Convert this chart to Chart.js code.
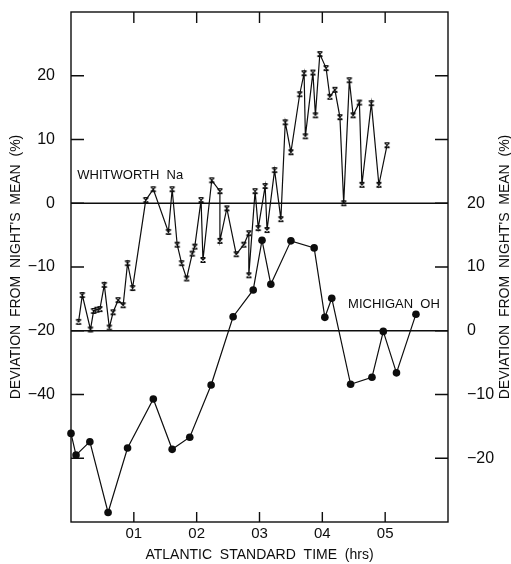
<!DOCTYPE html>
<html>
<head>
<meta charset="utf-8">
<script src="https://cdn.jsdelivr.net/npm/chart.js@4.4.1/dist/chart.umd.min.js"></script>
<style>
  html, body { margin: 0; padding: 0; background: #fff; }
</style>
</head>
<body>
<canvas id="myChart" width="511" height="564"></canvas>
<script>
'use strict';

// Whitworth Na (hours, % on left axis)
const naHours = [0.12, 0.18, 0.31, 0.36, 0.41, 0.46, 0.53, 0.61, 0.67, 0.75, 0.83, 0.90, 0.98,
	1.19, 1.31, 1.55, 1.61, 1.69, 1.76, 1.84, 1.93, 1.97, 2.07, 2.10, 2.24, 2.37, 2.37, 2.48,
	2.63, 2.75, 2.83, 2.83, 2.93, 2.98, 3.09, 3.12, 3.24, 3.34, 3.41, 3.50, 3.64, 3.71, 3.73,
	3.85, 3.89, 3.96, 4.06, 4.12, 4.20, 4.28, 4.34, 4.43, 4.49, 4.59, 4.63, 4.78, 4.90, 5.03];
const naValues = [-18.6, -14.4, -19.8, -16.9, -16.7, -16.6, -12.8, -19.5, -17.1, -15.2, -16.0, -9.4, -13.3,
	0.5, 2.2, -4.5, 2.2, -6.5, -9.4, -11.8, -7.9, -6.8, 0.5, -8.9, 3.6, 1.9, -5.9, -0.8,
	-8.0, -6.5, -4.7, -11.3, 1.9, -3.9, 2.7, -4.2, 5.2, -2.5, 12.7, 8.0, 17.1, 20.4, 10.5,
	20.5, 13.8, 23.4, 21.2, 16.7, 17.8, 13.5, 0.0, 19.3, 13.8, 15.8, 2.9, 15.7, 2.9, 9.1];

// Michigan OH (hours, % on right axis)
const ohHours = [0.00, 0.08, 0.30, 0.59, 0.90, 1.31, 1.61, 1.89, 2.23, 2.58, 2.90, 3.04, 3.18,
	3.50, 3.87, 4.04, 4.15, 4.45, 4.79, 4.97, 5.18, 5.49];
const ohValues = [-16.1, -19.5, -17.4, -28.5, -18.4, -10.7, -18.6, -16.7, -8.5, 2.2, 6.4, 14.2, 7.3,
	14.1, 13.0, 2.1, 5.1, -8.4, -7.3, -0.1, -6.6, 2.6];

const xTickValues = [1, 2, 3, 4, 5];
const xTickLabels = ['01', '02', '03', '04', '05'];
const leftTickValues = [-40, -30, -20, -10, 0, 10, 20];
const leftTickLabels = ['', '\u221240', '\u221220', '\u221210', '0', '10', '20'];
const rightTickValues = [-20, -10, 0, 10, 20, 30, 40];
const rightTickLabels = ['\u221220', '\u221210', '0', '10', '20', '', ''];
const naRefLines = [0, -20];

const ink = '#0d0d0d';
const fontFamily = '"Liberation Sans", Arial, Helvetica, sans-serif';
const yTitle = 'DEVIATION  FROM  NIGHT\'S  MEAN  (%)';

// hourglass-like cross marker used for the Na points
const naMarker = document.createElement('canvas');
naMarker.width = 8;
naMarker.height = 8;
(() => {
	const c = naMarker.getContext('2d');
	c.strokeStyle = ink;
	c.lineWidth = 1.2;
	c.beginPath();
	c.moveTo(1.5, 1.5); c.lineTo(6.5, 1.5);
	c.moveTo(1.5, 6.5); c.lineTo(6.5, 6.5);
	c.moveTo(1.5, 1.5); c.lineTo(6.5, 6.5);
	c.moveTo(6.5, 1.5); c.lineTo(1.5, 6.5);
	c.stroke();
})();

const framePlugin = {
	id: 'frame',
	afterDatasetsDraw(chart) {
		const { ctx, chartArea: a, scales } = chart;
		const x = scales.x, yl = scales.y, yr = scales.y2;
		ctx.save();
		ctx.strokeStyle = ink;
		ctx.lineWidth = 1.4;
		ctx.strokeRect(a.left, a.top, a.right - a.left, a.bottom - a.top);

		// reference lines
		naRefLines.forEach((v) => {
			const py = yl.getPixelForValue(v);
			ctx.beginPath();
			ctx.moveTo(a.left, py);
			ctx.lineTo(a.right, py);
			ctx.stroke();
		});

		// inward tick marks
		ctx.beginPath();
		xTickValues.forEach((v) => {
			const px = x.getPixelForValue(v);
			ctx.moveTo(px, a.top); ctx.lineTo(px, a.top + 11);
			ctx.moveTo(px, a.bottom); ctx.lineTo(px, a.bottom - 10);
		});
		leftTickValues.forEach((v) => {
			const py = yl.getPixelForValue(v);
			ctx.moveTo(a.left, py); ctx.lineTo(a.left + 13, py);
		});
		rightTickValues.forEach((v) => {
			const py = yr.getPixelForValue(v);
			ctx.moveTo(a.right, py); ctx.lineTo(a.right - 13, py);
		});
		ctx.stroke();

		// series labels
		ctx.fillStyle = ink;
		ctx.font = '13px ' + fontFamily;
		ctx.textBaseline = 'middle';
		ctx.textAlign = 'left';
		ctx.fillText('WHITWORTH  Na', x.getPixelForValue(0.1), yl.getPixelForValue(4.4));
		ctx.fillText('MICHIGAN  OH', x.getPixelForValue(4.41), yl.getPixelForValue(-15.8));

		// right axis title, reading bottom to top
		ctx.font = '14px ' + fontFamily;
		ctx.textAlign = 'center';
		ctx.translate(505, (a.top + a.bottom) / 2);
		ctx.rotate(-Math.PI / 2);
		ctx.fillText(yTitle, 0, 0);
		ctx.restore();
	},
};

const fitY = (w) => (s) => {
	s.width = w;
	s.paddingTop = 0;
	s.paddingBottom = 0;
};

const ctx = document.getElementById('myChart').getContext('2d');

const myChart = new Chart(ctx, {
	type: 'line',
	data: {
		datasets: [
			{
				label: 'Whitworth Na',
				data: naHours.map((h, i) => ({ x: h, y: naValues[i] })),
				yAxisID: 'y',
				borderColor: ink,
				borderWidth: 1.2,
				pointStyle: naMarker,
				pointRadius: 4,
				tension: 0,
			},
			{
				label: 'Michigan OH',
				data: ohHours.map((h, i) => ({ x: h, y: ohValues[i] })),
				yAxisID: 'y2',
				borderColor: ink,
				backgroundColor: ink,
				borderWidth: 1.2,
				pointStyle: 'circle',
				pointRadius: 3.8,
				pointBackgroundColor: ink,
				pointBorderWidth: 0,
				tension: 0,
				clip: 8,
			},
		],
	},
	options: {
		responsive: false,
		animation: false,
		events: [],
		layout: { padding: { top: 12 } },
		plugins: {
			legend: { display: false },
			tooltip: { enabled: false },
		},
		scales: {
			x: {
				type: 'linear',
				position: 'bottom',
				min: 0,
				max: 6,
				afterFit: (s) => {
					s.height = 42;
					s.paddingLeft = 0;
					s.paddingRight = 0;
				},
				afterBuildTicks: (s) => { s.ticks = xTickValues.map((v) => ({ value: v })); },
				ticks: {
					callback: (v, i) => xTickLabels[i],
					padding: 3,
					color: ink,
					font: { family: fontFamily, size: 15 },
					maxRotation: 0,
				},
				grid: { display: false, drawTicks: false },
				border: { display: false },
				title: {
					display: true,
					text: 'ATLANTIC  STANDARD  TIME  (hrs)',
					color: ink,
					font: { family: fontFamily, size: 14 },
					padding: { top: 0, bottom: 0 },
				},
			},
			y: {
				position: 'left',
				min: -50,
				max: 30,
				afterFit: fitY(71),
				afterBuildTicks: (s) => { s.ticks = leftTickValues.map((v) => ({ value: v })); },
				ticks: {
					callback: (v, i) => leftTickLabels[i],
					padding: 16,
					color: ink,
					font: { family: fontFamily, size: 16 },
				},
				grid: { display: false, drawTicks: false },
				border: { display: false },
				title: {
					display: true,
					text: yTitle,
					color: ink,
					font: { family: fontFamily, size: 14 },
					padding: { top: 8, bottom: 0 },
				},
			},
			y2: {
				position: 'right',
				min: -30,
				max: 50,
				afterFit: fitY(63),
				afterBuildTicks: (s) => { s.ticks = rightTickValues.map((v) => ({ value: v })); },
				ticks: {
					callback: (v, i) => rightTickLabels[i],
					padding: 19,
					color: ink,
					font: { family: fontFamily, size: 16 },
				},
				grid: { display: false, drawTicks: false },
				border: { display: false },
			},
		},
	},
	plugins: [framePlugin],
});
</script>
</body>
</html>
